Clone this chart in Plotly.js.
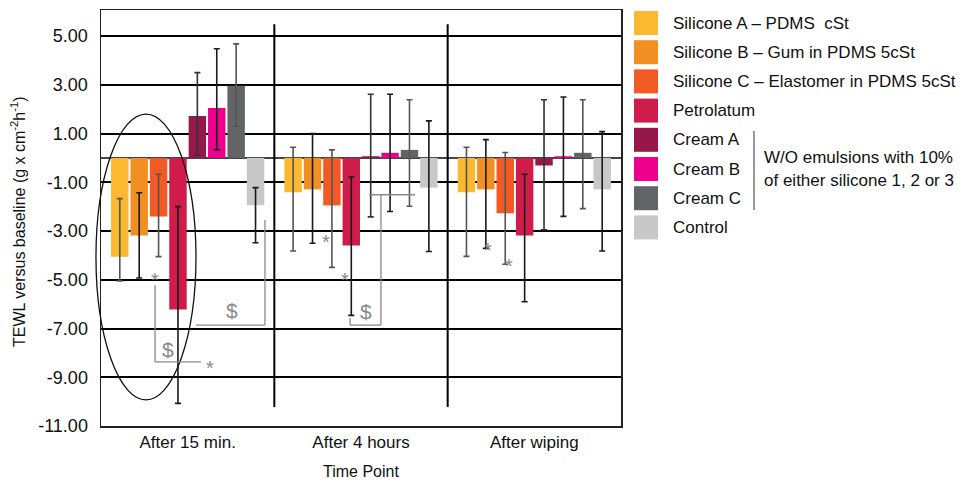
<!DOCTYPE html>
<html>
<head>
<meta charset="utf-8">
<script src="https://cdn.plot.ly/plotly-3.0.1.min.js"></script>
<style>html,body{margin:0;padding:0;background:#fff;}#chart{width:963px;height:480px;}</style>
</head>
<body>
<div id="chart"></div>
<script>
// ---- data ----
const timePoints = ["After 15 min.", "After 4 hours", "After wiping"];
const seriesNames = ["Silicone A \u2013 PDMS  cSt", "Silicone B \u2013 Gum in PDMS 5cSt", "Silicone C \u2013 Elastomer in PDMS 5cSt", "Petrolatum", "Cream A", "Cream B", "Cream C", "Control"];
const seriesColors = ["#FBB931", "#F18F22", "#F15A24", "#D01C4B", "#96174A", "#EC008C", "#636466", "#C8C8C9"];
const errColors = ["#555555", "#1a1a1a", "#555555", "#1a1a1a", "#333333", "#1a1a1a", "#555555", "#1a1a1a"];

const siliconeA = [-4.05, -1.41, -1.41];
const siliconeB = [-3.18, -1.29, -1.29];
const siliconeC = [-2.40, -1.95, -2.27];
const petrolatum = [-6.22, -3.59, -3.18];
const creamA = [1.72, 0.07, -0.31];
const creamB = [2.05, 0.21, 0.07];
const creamC = [2.96, 0.33, 0.21];
const control = [-1.94, -1.22, -1.29];

const siliconeAHi = [-1.67, 0.44, 0.44],  siliconeALo = [-5.05, -3.82, -4.04];
const siliconeBHi = [-1.43, 1.00, 0.75],  siliconeBLo = [-4.93, -3.50, -3.71];
const siliconeCHi = [-0.67, 0.33, 0.22],  siliconeCLo = [-4.05, -4.49, -4.36];
const petrolatumHi = [-2.00, -0.78, -0.67], petrolatumLo = [-10.07, -6.46, -5.90];
const creamAHi = [3.50, 2.61, 2.39], creamALo = [0.11, -2.42, -2.95];
const creamBHi = [4.48, 2.61, 2.50], creamBLo = [0.33, -2.20, -2.40];
const creamCHi = [4.68, 2.39, 2.39], creamCLo = [1.30, -1.98, -2.08];
const controlHi = [-1.22, 1.52, 1.08], controlLo = [-3.48, -3.84, -3.82];

const yTickVals = [5, 3, 1, -1, -3, -5, -7, -9, -11];
const yTickText = ["5.00", "3.00", "1.00", "-1.00", "-3.00", "-5.00", "-7.00", "-9.00", "-11.00"];
const bracketNote = ["W/O emulsions with 10%", "of either silicone 1, 2 or 3"];
const xTitle = "Time Point";
const yTitle = "TEWL versus baseline (g x cm<sup>-2</sup>h<sup>-1</sup>)";

// ---- build ----
const values = [siliconeA, siliconeB, siliconeC, petrolatum, creamA, creamB, creamC, control];
const his = [siliconeAHi, siliconeBHi, siliconeCHi, petrolatumHi, creamAHi, creamBHi, creamCHi, controlHi];
const los = [siliconeALo, siliconeBLo, siliconeCLo, petrolatumLo, creamALo, creamBLo, creamCLo, controlLo];

const FONT = "Liberation Sans, Arial, sans-serif";
const XR = [-0.5, 2.5], YR = [-11, 6.07];
const W = 963, H = 480, ML = 101, MR = 342, MT = 10, MB = 54;
const PW = W - ML - MR, PH = H - MT - MB;
const px = x => (x - XR[0]) / (XR[1] - XR[0]);
const py = y => (y - YR[0]) / (YR[1] - YR[0]);
const pixX = p => (p - ML) / PW;          // pixel -> paper
const pixY = p => (H - MB - p) / PH;

const traces = values.map((v, j) => ({
  type: "bar",
  name: seriesNames[j],
  x: timePoints,
  y: v,
  marker: {color: seriesColors[j], line: {width: 0}},
  error_y: {
    type: "data", symmetric: false,
    array: v.map((val, i) => his[j][i] - val),
    arrayminus: v.map((val, i) => val - los[j][i]),
    color: errColors[j], thickness: 1.6, width: 3
  },
  showlegend: false,
  hoverinfo: "skip"
}));

const gray = "#8a8a8a";
const shapes = [];
const annotations = [];

// group separators
[0.5, 1.5].forEach(xv => shapes.push({type: "line", xref: "x", yref: "y", x0: xv, x1: xv, y0: 5.49, y1: -10.22, line: {color: "#000", width: 2}}));

// ellipse highlight
shapes.push({type: "circle", xref: "paper", yref: "paper", x0: px(-0.529), x1: px(0.048), y0: py(1.8), y1: py(-9.93), line: {color: "#111", width: 1.3}, layer: "above"});

// significance brackets
function seg(x0, y0, x1, y1, c) { shapes.push({type: "line", xref: "x", yref: "y", x0: x0, y0: y0, x1: x1, y1: y1, line: {color: c || gray, width: 1.3}}); }
seg(-0.188, -5.22, -0.188, -8.37); seg(-0.188, -8.37, 0.077, -8.37);
seg(0.048, -6.86, 0.446, -6.86); seg(0.446, -6.86, 0.446, -2.55);
seg(1.046, -1.51, 1.312, -1.51); seg(1.115, -1.51, 1.115, -6.86);
seg(0.937, -6.86, 1.115, -6.86); seg(0.937, -6.57, 0.937, -6.86);

function txt(x, y, t, size) { annotations.push({xref: "x", yref: "y", x: x, y: y, text: t, showarrow: false, font: {family: FONT, size: size, color: gray}}); }
txt(-0.188, -5.0, "*", 20);
txt(-0.113, -7.88, "$", 21);
txt(0.129, -8.6, "*", 20);
txt(0.254, -6.24, "$", 21);
txt(0.798, -3.47, "*", 20);
txt(0.906, -5.0, "*", 20);
txt(1.029, -6.32, "$", 21);
txt(1.733, -3.77, "*", 20);
txt(1.854, -4.43, "*", 20);

// legend (drawn)
const legTop = 11, legStep = 29.2, sw = 24;
seriesNames.forEach((n, j) => {
  const t = legTop + j * legStep;
  shapes.push({type: "rect", xref: "paper", yref: "paper", x0: pixX(634), x1: pixX(634 + sw), y0: pixY(t), y1: pixY(t + sw), fillcolor: seriesColors[j], line: {width: 0}});
  annotations.push({xref: "paper", yref: "paper", x: pixX(671), y: pixY(t + sw / 2), xanchor: "left", yanchor: "middle", text: n, showarrow: false, font: {family: FONT, size: 17, color: "#111"}});
});
shapes.push({type: "line", xref: "paper", yref: "paper", x0: pixX(754), x1: pixX(754), y0: pixY(131), y1: pixY(210), line: {color: "#999", width: 2}});
bracketNote.forEach((t, k) => annotations.push({xref: "paper", yref: "paper", x: pixX(762), y: pixY(157 + k * 23), xanchor: "left", yanchor: "middle", text: t, showarrow: false, font: {family: FONT, size: 17, color: "#111"}}));

// axis titles
annotations.push({xref: "paper", yref: "paper", x: 0.5, y: pixY(471), xanchor: "center", yanchor: "middle", text: xTitle, showarrow: false, font: {family: FONT, size: 16, color: "#111"}});
annotations.push({xref: "paper", yref: "paper", x: pixX(18), y: pixY(222), xanchor: "center", yanchor: "middle", textangle: -90, text: yTitle, showarrow: false, font: {family: FONT, size: 16, color: "#111"}});

const layout = {
  width: W, height: H,
  margin: {l: ML, r: MR, t: MT, b: MB, pad: 0},
  paper_bgcolor: "#fff", plot_bgcolor: "#fff",
  barmode: "group", bargap: 0.105, bargroupgap: 0.1,
  font: {family: FONT, size: 17, color: "#111"},
  showlegend: false,
  xaxis: {
    type: "category", range: XR, showgrid: false, zeroline: false,
    showline: true, mirror: true, linecolor: "#222", linewidth: 1.5,
    ticks: "", tickfont: {family: FONT, size: 17, color: "#111"},
    automargin: false
  },
  yaxis: {
    range: YR, tickmode: "array", tickvals: yTickVals, ticktext: yTickText,
    showgrid: true, gridcolor: "#000", gridwidth: 2,
    zeroline: true, zerolinecolor: "#444", zerolinewidth: 1.5,
    showline: true, mirror: true, linecolor: "#222", linewidth: 1.5,
    ticks: "", ticklabelstandoff: 8, tickfont: {family: FONT, size: 18, color: "#111"},
    automargin: false
  },
  shapes: shapes,
  annotations: annotations
};

Plotly.newPlot("chart", traces, layout, {displayModeBar: false, staticPlot: true});
</script>
</body>
</html>
